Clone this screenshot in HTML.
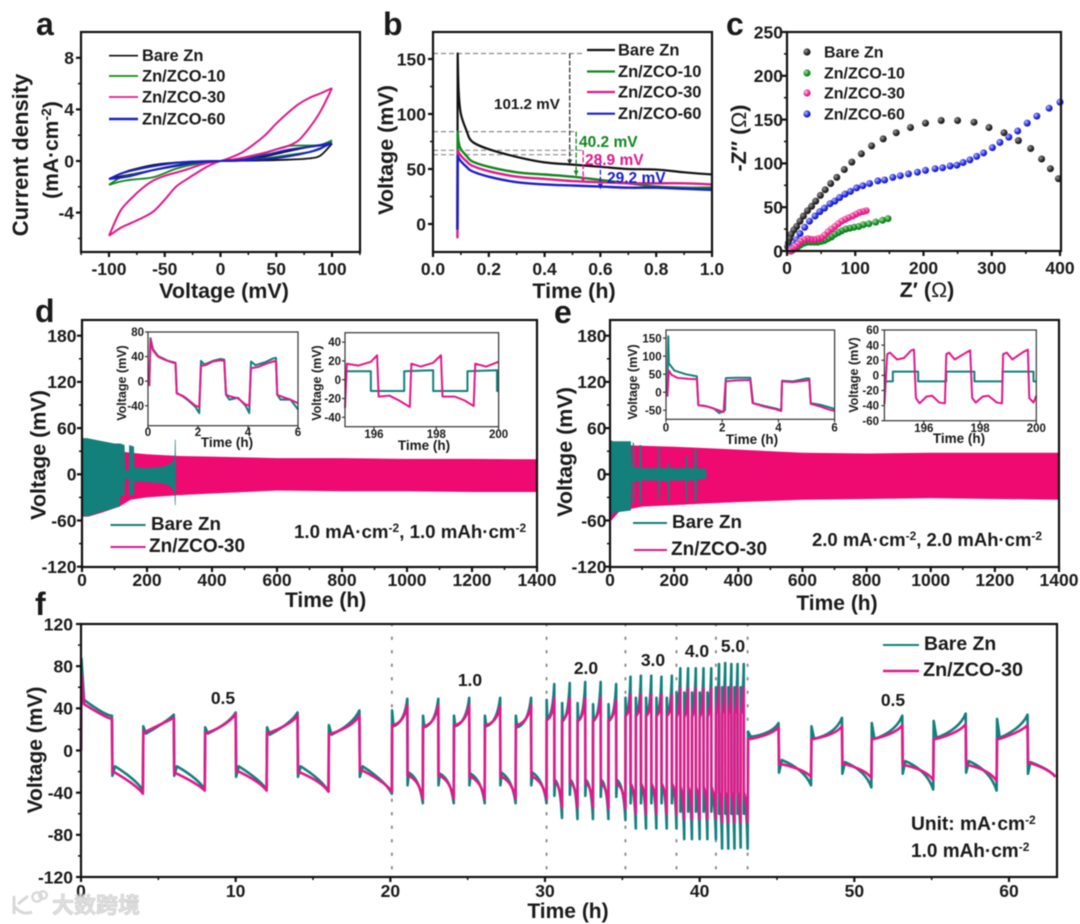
<!DOCTYPE html>
<html lang="en">
<head>
<meta charset="utf-8">
<title>Zn/ZCO electrochemical performance figure</title>
<style>
html,body{margin:0;padding:0;background:#fff;width:1080px;height:924px;overflow:hidden}
svg{display:block;filter:blur(.45px)}
text{font-family:"Liberation Sans","Noto Sans CJK SC",sans-serif;font-weight:700;fill:#1a1a1a}
</style>
</head>
<body>
<svg id="fig" xmlns="http://www.w3.org/2000/svg" width="1080" height="924" viewBox="0 0 1080 924">
<defs>
<radialGradient id="g-black" cx=".35" cy=".35" r=".8"><stop offset="0" stop-color="#9a9a9a"/><stop offset=".6" stop-color="#222"/><stop offset="1" stop-color="#111"/></radialGradient>
<radialGradient id="g-green" cx=".35" cy=".35" r=".8"><stop offset="0" stop-color="#9fe09f"/><stop offset=".6" stop-color="#12861f"/><stop offset="1" stop-color="#0d6f18"/></radialGradient>
<radialGradient id="g-pink" cx=".35" cy=".35" r=".8"><stop offset="0" stop-color="#ffc0e0"/><stop offset=".6" stop-color="#ea1f88"/><stop offset="1" stop-color="#d01077"/></radialGradient>
<radialGradient id="g-blue" cx=".35" cy=".35" r=".8"><stop offset="0" stop-color="#b0b8ff"/><stop offset=".6" stop-color="#1a20d8"/><stop offset="1" stop-color="#1015b0"/></radialGradient>
</defs>
<g id="root"></g>
<g opacity=".9">
<circle cx="37" cy="897" r="4.6" fill="none" stroke="#d4d4d4" stroke-width="2.4"/>
<circle cx="43" cy="895" r="3.8" fill="none" stroke="#d4d4d4" stroke-width="2.4"/>
<path d="M14 896 V914 M14 906 Q22 916 32 912 M18 904 L28 896" fill="none" stroke="#d4d4d4" stroke-width="3"/>
<text x="52" y="913" font-size="22" style="fill:#dcdcdc;stroke:#c6c6c6;stroke-width:.6">大数跨境</text>
</g>
</svg>
<script>
/* ---------- shared colours ---------- */
const cBlack='#111111',cGreen='#12861f',cPink='#e0198a',cBlue='#1a20c8',cTeal='#13807c',cMagenta='#ee0a70';

/* ---------- panel a : CV ---------- */
const aXTicks=[-100,-50,0,50,100];
const aXMinor=[-125,-75,-25,25,75,125];
const aYTicks=[-4,0,4,8];
const aYMinor=[-6,-2,2,6];
const aLegend=['Bare Zn','Zn/ZCO-10','Zn/ZCO-30','Zn/ZCO-60'];
const cvVoltage=[-100,-90,-80,-60,-40,-20,0,20,40,60,80,90,100];
const cvVoltageFine=[-100,-90,-80,-70,-60,-50,-40,-30,-20,-10,0,10,20,30,40,50,60,70,80,90,100];
const cvBareUp=[-1.4,-1.0,-.7,-.3,-.12,-.03,0,.05,.35,.75,1.1,1.2,1.35];
const cvBareLo=[-1.4,-1.2,-1.05,-.7,-.4,-.1,0,.02,.05,.1,.2,.45,1.35];
const cvZ10Up=[-1.85,-1.3,-1.1,-.7,-.35,-.1,0,.1,.6,1.15,1.2,1.25,1.6];
const cvZ10Lo=[-1.85,-1.6,-1.45,-1.25,-.6,-.2,0,.05,.2,.45,.7,.95,1.6];
const cvZ30Up=[-5.8,-3.9,-2.9,-2.1,-1.5,-1.15,-.9,-.65,-.35,-.12,0,.3,.7,1.3,2,2.9,3.7,4.4,4.9,5.25,5.65];
const cvZ30Lo=[-5.8,-5.2,-4.8,-4.4,-3.9,-3,-2,-1.4,-.85,-.35,0,.1,.25,.45,.65,.9,1.15,1.6,2.6,3.9,5.65];
const cvZ60Up=[-1.4,-1.0,-.75,-.4,-.15,-.03,0,.1,.45,.85,1.1,1.25,1.4];
const cvZ60Lo=[-1.4,-1.3,-1.15,-.7,-.35,-.1,0,.05,.15,.35,.7,1.0,1.4];

/* ---------- panel b : nucleation ---------- */
const bXTicks=[0,.2,.4,.6,.8,1];
const bXLabels=['0.0','0.2','0.4','0.6','0.8','1.0'];
const bXMinor=[.1,.3,.5,.7,.9];
const bYTicks=[0,50,100,150];
const bYMinor=[25,75,125];
const bTime=[.0875,.0885,.092,.1,.12,.14,.2,.3,.4,.5,.6,.7,.8,.9,1];
const bBare=[-5,155,120,100,85,75,68,61,56,54,52,50,49.5,47,45];
const bZ10=[-5,84,74,68,62,57,52,47,45,43,40,37,34,33,33];
const bZ30=[-13,67,65,62,57,53,48,43,41,39,38,37,37,37,36];
const bZ60=[-5,62,60,57,52,48,43,38,36,35,34,33,33,32,31];
const bLevels=[155,84,67,63];
const bLevelEnd=[.54,.51,.54,.5];
const bDropX=[.49,.513,.538,.6];
const bDropTop=[155,84,67,62];
const bDropBottom=[54,44,38,32];
const bDropLabels=['101.2 mV','40.2 mV','28.9 mV','29.2 mV'];

/* ---------- panel c : EIS ---------- */
const cXTicks=[0,100,200,300,400];
const cXMinor=[50,150,250,350];
const cYTicks=[0,50,100,150,200,250];
const cYMinor=[25,75,125,175,225];
const cBareRe=[397.6,386,373,357,339,318,296,274,250,226,203,181,160,141,124,109,95,84,73,64,56,49,42,36,30,24,19,14,10,6,4,2,1];
const cBareIm=[82.5,94,105,117,126,135,141,147,149,149,146,141,135,128,120,111,101.5,93,84,77,70,63.5,57,51,46,40,34,28,24,19,14,9,5];
const cZ60Re=[400,384,366,352,338,325,312,301,288,278,268,258,249,239,228,217,203,191,178,166,155,143,133,121,111,102,93,85,77,70,63,55,48,41,33,26,19,14,10,6];
const cZ60Im=[170,163,154,146,137,130,124,118,112,108,104,101,98,97,95,94,92,90,88,86,84,81,80,77,74.5,72,68,65,61,57,54,49,45,40,34,27,20,13,6.5,3];
const cZ10Re=[148,140,130,120,112,105,98,92,86,80,75,70,65,60,55,50,45,40,35,30,25,20,16,12,8,6];
const cZ10Im=[37,35,33,31,30,28,27,26,25,23,21,19,16,14,12,11,10,10,10,10,9,7,5,3,1,0];
const cZ30Re=[116,111,106,101,96,90,85,80,75,70,65,60,55,50,45,40,35,30,25,20,16,12,8,5];
const cZ30Im=[46,45,44,42,40,38,36,34,31,28,25,22,18,15,14,13,13.5,14,13,11,8,5,2,0];

/* ---------- panel d : 1 mA cycling ---------- */
const dXTicks=[0,200,400,600,800,1000,1200,1400];
const dXMinor=[100,300,500,700,900,1100,1300];
const dYTicks=[-120,-60,0,60,120,180];
const dYMinor=[-90,-30,30,90,150];
const dZcoT=[0,20,60,115,150,200,300,400,600,800,1000,1200,1400];
const dZcoUp=[40,40,36,30,28,26,23.7,23,21,21,20,20,19.5];
const dZcoLo=[-55,-55,-50,-42,-33,-30,-27,-25,-21,-22,-22,-23,-23];
const dBareT=[0,3,15,50,100,116,118,131,133,144,145,160,161,200,250,270,280,285,286,288,289];
const dBareUp=[70,47,47,44,40,40,40,38,5,6,38,36,9,8,10,13,17,22,45,45,0];
const dBareLo=[-50,-52,-55,-50,-44,-42,-28,-28,-6,-6,-27,-27,-9,-10,-12,-15,-20,-24,-40,-40,0];

/* inset d1 */
const d1XTicks=[0,2,4,6];
const d1YTicks=[-40,0,40,80];
const d1ZcoT=[.05,.1,.2,.4,.6,.8,1,1.1,1.15,1.4,1.6,1.9,2.05,2.12,2.3,2.6,2.9,3.05,3.12,3.3,3.6,3.9,4.05,4.12,4.4,4.7,5,5.12,5.17,5.4,5.7,6];
const d1ZcoV=[-8,68,50,40,36,33,30,30,-20,-24,-30,-40,-42,25,26,32,34,33,-22,-25,-28,-38,-40,21,23,28,32,33,-22,-26,-30,-36];
const d1BareT=[.05,.1,.2,.4,.6,.8,1,1.1,1.15,1.4,1.6,1.9,2.05,2.12,2.25,2.6,2.9,3.05,3.12,3.25,3.6,3.9,4.05,4.12,4.3,4.7,5,5.12,5.17,5.3,5.7,6];
const d1BareV=[-8,70,52,41,37,33,31,30,-19,-25,-31,-42,-52,33,27,33,36,35,-22,-30,-27,-40,-52,32,26,31,37,38,-22,-30,-30,-46];

/* inset d2 */
const d2XTicks=[196,198,200];
const d2YTicks=[-40,-20,0,20,40];
const d2BareT=[195.07,195.9,195.9,196.97,196.97,197.9,197.9,199,199,199.95,199.95,200];
const d2BareV=[9,9,-12,-12,9,10,-12,-12,9,10,-12,-12];
const d2ZcoT=[195.07,195.13,195.5,195.9,196.1,196.15,196.5,196.8,197.15,197.2,197.5,197.9,198.15,198.2,198.6,198.9,199.2,199.25,199.6,200];
const d2ZcoV=[-30,17,15,19,26,-18,-17,-22,-29,17,14,18,26,-18,-18,-22,-28,17,14,19];

/* ---------- panel e : 2 mA cycling ---------- */
const eZcoT=[0,30,100,200,300,400,600,800,1000,1200,1400];
const eZcoUp=[38,38,37,35.7,34,32,28,27,28,28,28];
const eZcoLo=[-62,-48,-42,-40,-38,-36,-33,-32,-31,-32,-33];
const eBareT=[0,1,3,10,65,67,70,71,75,76,91,92,97,98,150,151,155,156,180,181,185,186,235,236,240,241,263,264,270,271,295,300,301];
const eBareUp=[155,155,44,43,43,10,10,42,40,10,8,38,38,8,8,36,36,8,8,15,15,8,8,25,25,8,8,32,32,8,7,6,0];
const eBareLo=[-55,-55,-55,-50,-47,-10,-10,-38,-38,-10,-8,-38,-38,-8,-8,-32,-32,-8,-10,-35,-35,-8,-8,-36,-36,-8,-8,-36,-36,-7,-6,-6,0];

/* inset e1 */
const e1XTicks=[0,2,4,6];
const e1YTicks=[-50,0,50,100,150];
const e1BareT=[.05,.08,.1,.3,.7,1.1,1.15,1.4,1.7,1.9,2.1,2.13,2.5,3,3.1,3.5,3.9,4.1,4.13,4.5,5,5.1,5.15,5.5,6];
const e1BareV=[-12,155,80,60,50,44,-35,-38,-45,-58,-50,39,40,40,-30,-38,-45,-50,32,30,38,38,-30,-35,-46];
const e1ZcoT=[.05,.1,.2,.4,.8,1.1,1.15,1.5,1.8,2.05,2.12,2.5,3,3.08,3.5,3.9,4.1,4.13,4.5,5,5.1,5.15,5.5,5.8,6];
const e1ZcoV=[-12,60,48,40,37,36,-36,-40,-48,-55,30,33,34,-30,-40,-47,-52,30,28,32,34,-32,-40,-48,-52];

/* inset e2 */
const e2XTicks=[196,198,200];
const e2YTicks=[-60,-40,-20,0,20,40,60];
const e2BareT=[194.6,194.9,194.9,195.8,195.8,196.8,196.8,197.8,197.8,198.8,198.8,199.9,199.9,200];
const e2BareV=[-8,-8,5,5,-8,-8,5,5,-8,-8,5,5,-8,-8];
const e2ZcoT=[194.6,194.7,194.8,195.05,195.3,195.55,195.65,195.72,195.85,196.1,196.3,196.55,196.75,196.8,196.9,197.1,197.5,197.65,197.72,197.85,198.1,198.3,198.6,198.78,198.82,198.95,199.15,199.5,199.7,199.75,199.9,200];
const e2ZcoV=[-38,28,30,21,23,33,34,-30,-37,-28,-27,-36,-37,28,30,21,30,33,-30,-36,-28,-27,-36,-37,28,30,21,30,34,-30,-36,-27];

/* ---------- panel f : rate ---------- */
const fXTicks=[0,10,20,30,40,50,60];
const fXMinor=[5,15,25,35,45,55];
const fYTicks=[-120,-80,-40,0,40,80,120];
const fYMinor=[-100,-60,-20,20,60,100];
const fRateChanges=[20.1,30.1,35.2,38.5,41.05,43.1];
const fRateLabels=['0.5','1.0','2.0','3.0','4.0','5.0','0.5'];
const fHalfEnd=[2,4,6,8,10,12,14,16,18,20.1,
 21.1,22.1,23.1,24.1,25.1,26.1,27.1,28.1,29.1,30.1,
 30.6,31.1,31.6,32.1,32.6,33.1,33.6,34.1,34.6,35.2,
 35.53,35.87,36.2,36.53,36.87,37.2,37.53,37.87,38.2,38.5,
 38.75,39,39.25,39.5,39.75,40,40.25,40.5,40.75,41.05,
 41.25,41.45,41.65,41.85,42.05,42.25,42.45,42.65,42.85,43.1,
 45.1,47.2,49.2,51.1,53.1,55.1,57.2,59.2,61.2,63];
const fBareSpike=[87,-24,23,-24,22,-25,22,-25,24,-25,
 38,-33,33,-33,33,-33,33,-33,33,-33,
 48,-43,45,-42,45,-43,44,-44,44,-44,
 50,-50,50,-50,50,-50,50,-50,50,-50,
 55,-58,55,-58,55,-58,55,-58,55,-58,
 60,-60,60,-60,60,-60,60,-60,60,-60,
 18,-21,23,-22,26,-22,28,-21,30,-22];
const fBarePlateau=[48,-15,16,-15,16,-15,15,-15,15,-15,
 23,-21,22,-22,23,-22,23,-21,22,-21,
 30,-28,28,-28,28,-28,28,-28,28,-28,
 34,-32,34,-32,34,-32,34,-32,34,-32,
 38,-38,38,-38,38,-38,38,-38,38,-38,
 40,-42,40,-42,40,-42,40,-42,40,-42,
 13,-9,11,-11,11,-10,12,-10,12,-11];
const fBareKnee=[33,-28,28,-27,26,-28,26,-28,25,-29,
 26,-27,25,-27,26,-28,26,-28,25,-28,
 33,-32,32,-32,32,-32,32,-32,32,-32,
 38,-38,38,-38,38,-38,38,-38,38,-38,
 45,-48,45,-48,45,-48,45,-48,45,-48,
 50,-55,50,-55,50,-55,50,-55,50,-55,
 16,-18,16,-19,18,-19,20,-19,21,-18];
const fBareEnd=[33,-38,34,-37,36,-37,36,-39,38,-41,
 49,-50,49,-50,50,-50,50,-50,50,-50,
 63,-64,64,-65,65,-65,65,-65,63,-66,
 70,-74,71,-74,71,-74,70,-74,71,-74,
 78,-84,78,-84,78,-84,78,-84,78,-84,
 82,-93,83,-93,82,-93,82,-92,82,-93,
 26,-33,31,-35,33,-37,35,-38,34,-25];
const fZcoSpike=[72,-21,18,-22,17,-20,17,-21,16,-19,
 24,-24,23,-24,24,-25,24,-25,24,-25,
 29,-30,29,-30,28,-31,29,-31,29,-32,
 33,-32,33,-32,33,-32,33,-32,33,-32,
 32,-35,32,-35,32,-35,32,-35,32,-35,
 35,-40,35,-40,35,-40,35,-40,35,-40,
 11,-13,11,-13,11,-14,11,-14,11,-12];
const fZcoPlateau=[44,-21,18,-22,17,-20,17,-21,16,-19,
 24,-24,23,-24,24,-25,24,-25,24,-25,
 29,-30,29,-30,28,-31,29,-31,29,-32,
 33,-32,33,-32,33,-32,33,-32,33,-32,
 32,-35,32,-35,32,-35,32,-35,32,-35,
 35,-40,35,-40,35,-40,35,-40,35,-40,
 11,-13,11,-13,11,-14,11,-14,11,-12];
const fZcoKnee=[31,-33,28,-32,25,-30,25,-30,23,-30,
 27,-29,26,-29,27,-30,27,-30,27,-30,
 32,-34,32,-34,32,-34,32,-35,32,-35,
 36,-38,36,-38,36,-38,36,-38,36,-38,
 40,-44,40,-44,40,-44,40,-44,40,-44,
 45,-50,45,-50,45,-50,45,-50,45,-50,
 15,-18,15,-18,16,-19,17,-19,18,-18];
const fZcoEnd=[30,-41,31,-38,35,-38,33,-39,33,-39,
 43,-46,43,-46,43,-46,42,-46,43,-46,
 50,-54,50,-54,50,-54,50,-55,48,-55,
 53,-60,53,-60,53,-60,53,-60,53,-60,
 59,-65,59,-65,59,-65,59,-65,59,-65,
 60,-68,60,-68,60,-68,60,-68,60,-68,
 22,-25,23,-26,24,-28,25,-29,24,-25];

/* ---------- helpers ---------- */
const NS='http://www.w3.org/2000/svg';
const root=document.getElementById('root');
function scale(d0,d1,r0,r1){return v=>r0+(v-d0)*(r1-r0)/(d1-d0);}
function node(tag,parent,name){
  const el=document.createElementNS(NS,tag);
  
  
  parent.appendChild(el);
  return el;
}
function group(parent,name){return node('g',parent,name);}
function label(parent,name,x,y,str,size,anchor,fill,rot){
  const t=node('text',parent,name);
  t.setAttribute('x',x);t.setAttribute('y',y);
  t.setAttribute('font-size',size);
  t.setAttribute('text-anchor',anchor||'start');
  if(fill)t.style.fill=fill;
  if(rot)t.setAttribute('transform','rotate(-90 '+x+' '+y+')');
  t.innerHTML=str;
  return t;
}
function seg(parent,name,x1,y1,x2,y2,color,w,dash){
  const l=node('line',parent,name);
  l.setAttribute('x1',x1);l.setAttribute('y1',y1);l.setAttribute('x2',x2);l.setAttribute('y2',y2);
  l.setAttribute('stroke',color);l.setAttribute('stroke-width',w);
  if(dash)l.setAttribute('stroke-dasharray',dash);
  return l;
}
function series(parent,name,xs,ys,sx,sy,color,w,smoothFrom){
  const p=node('path',parent,name);
  const pts=xs.map((v,i)=>[sx(v),sy(ys[i])]);
  let d='M'+pts[0][0].toFixed(2)+' '+pts[0][1].toFixed(2);
  for(let i=0;i<pts.length-1;i++){
    const b=pts[i],c=pts[i+1];
    if(smoothFrom===undefined||i<smoothFrom){
      d+='L'+c[0].toFixed(2)+' '+c[1].toFixed(2);
    }else{
      const a=pts[Math.max(i-1,smoothFrom)],e=pts[Math.min(i+2,pts.length-1)];
      d+='C'+(b[0]+(c[0]-a[0])/6).toFixed(2)+' '+(b[1]+(c[1]-a[1])/6).toFixed(2)+' '+
          (c[0]-(e[0]-b[0])/6).toFixed(2)+' '+(c[1]-(e[1]-b[1])/6).toFixed(2)+' '+
          c[0].toFixed(2)+' '+c[1].toFixed(2);
    }
  }
  p.setAttribute('d',d);
  p.setAttribute('fill','none');p.setAttribute('stroke',color);p.setAttribute('stroke-width',w);
  p.setAttribute('stroke-linejoin','round');
  return p;
}
function band(parent,name,ts,up,lo,sx,sy,color){
  const p=node('path',parent,name);
  let d=ts.map((t,i)=>(i?'L':'M')+sx(t).toFixed(2)+' '+sy(up[i]).toFixed(2)).join('');
  for(let i=ts.length-1;i>=0;i--)d+='L'+sx(ts[i]).toFixed(2)+' '+sy(lo[i]).toFixed(2);
  p.setAttribute('d',d+'Z');p.setAttribute('fill',color);
  return p;
}
function frame(g,o){
  const x0=o.box[0],y0=o.box[1],x1=o.box[2],y1=o.box[3];
  const w=o.sw||2.2,len=o.len||5,col=o.color||'#111';
  (o.xMinor||[]).forEach(v=>seg(g,'x-minor-tick',o.sx(v),y1,o.sx(v),y1+len*.6,col,w*.7));
  (o.yMinor||[]).forEach(v=>seg(g,'y-minor-tick',x0,o.sy(v),x0-len*.6,o.sy(v),col,w*.7));
  o.xTicks.forEach((v,i)=>{
    seg(g,'x-tick',o.sx(v),y1,o.sx(v),y1+len,col,w);
    label(g,'x-tick-label',o.sx(v),o.xLabelY,o.xLabels?o.xLabels[i]:String(v),o.font,'middle');
  });
  o.yTicks.forEach(v=>{
    seg(g,'y-tick',x0,o.sy(v),x0-len,o.sy(v),col,w);
    label(g,'y-tick-label',o.yLabelX,o.sy(v)+o.font*.36,String(v),o.font,'end');
  });
  const r=node('rect',g,'plot-frame');
  r.setAttribute('x',x0);r.setAttribute('y',y0);r.setAttribute('width',x1-x0);r.setAttribute('height',y1-y0);
  r.setAttribute('fill','none');r.setAttribute('stroke',col);r.setAttribute('stroke-width',w);
}
function lineKey(g,name,text,x0,x1,y,tx,ty,size,color,w){
  const e=group(g,name);
  seg(e,'legend-line',x0,y,x1,y,color,w);
  label(e,'legend-label',tx,ty,text,size);
}

/* ---------- panel a ---------- */
(function(){
  const g=group(root,'panel-a-cv-chart');
  const sx=scale(-100,100,109,332),sy=scale(0,8,161,57.8);
  label(g,'panel-letter-a',36,35,'a',32);
  series(g,'series-bare-zn-forward',cvVoltage,cvBareUp,sx,sy,cBlack,1.8,0);
  series(g,'series-bare-zn-reverse',cvVoltage,cvBareLo,sx,sy,cBlack,1.8,0);
  series(g,'series-zn-zco-10-forward',cvVoltage,cvZ10Up,sx,sy,cGreen,1.8,0);
  series(g,'series-zn-zco-10-reverse',cvVoltage,cvZ10Lo,sx,sy,cGreen,1.8,0);
  series(g,'series-zn-zco-30-forward',cvVoltageFine,cvZ30Up,sx,sy,cPink,2,0);
  series(g,'series-zn-zco-30-reverse',cvVoltageFine,cvZ30Lo,sx,sy,cPink,2,0);
  series(g,'series-zn-zco-60-forward',cvVoltage,cvZ60Up,sx,sy,cBlue,2,0);
  series(g,'series-zn-zco-60-reverse',cvVoltage,cvZ60Lo,sx,sy,cBlue,2,0);
  frame(g,{box:[81,32,360,252],sx,sy,xTicks:aXTicks,xMinor:aXMinor,yTicks:aYTicks,yMinor:aYMinor,font:17.5,xLabelY:275,yLabelX:74});
  [[55.7,cBlack,1.6],[76,cGreen,1.8],[97,cPink,1.8],[119,cBlue,2.4]].forEach((k,i)=>{
    lineKey(g,'legend-entry',aLegend[i],109,138,k[0],142,k[0]+5.5,16.5,k[1],k[2]);
  });
  label(g,'x-axis-title',224,298,'Voltage (mV)',21.5,'middle');
  label(g,'y-axis-title',28,155,'Current density',22,'middle','',true);
  label(g,'y-axis-title-units',58,150,'(mA·cm<tspan dy="-7" font-size="14">-2</tspan><tspan dy="7">)</tspan>',21,'middle','',true);
})();

/* ---------- panel b ---------- */
(function(){
  const g=group(root,'panel-b-nucleation-chart');
  const sx=scale(0,1,433,712),sy=scale(0,150,224,59);
  label(g,'panel-letter-b',383,35,'b',32);
  bLevels.forEach((v,i)=>seg(g,'overpotential-guide',433,sy(v),sx(bLevelEnd[i]),sy(v),'#8a8a8a',1.2,'5 3'));
  series(g,'series-bare-zn',bTime,bBare,sx,sy,cBlack,2.2,1);
  series(g,'series-zn-zco-10',bTime,bZ10,sx,sy,cGreen,2.4,1);
  series(g,'series-zn-zco-30',bTime,bZ30,sx,sy,cPink,2.4,1);
  series(g,'series-zn-zco-60',bTime,bZ60,sx,sy,cBlue,2.4,1);
  const dropColors=['#333',cGreen,cPink,cBlue];
  bDropX.forEach((v,i)=>{
    seg(g,'overpotential-drop',sx(v),sy(bDropTop[i]),sx(v),sy(bDropBottom[i]),dropColors[i],1.3,'5 2');
    const a=node('path',g,'overpotential-arrow');
    a.setAttribute('d','M'+(sx(v)-2.5)+' '+(sy(bDropBottom[i])-5)+'h5l-2.5 5z');
    a.setAttribute('fill',dropColors[i]);
  });
  frame(g,{box:[433,32,712,252],sx,sy,xTicks:bXTicks,xLabels:bXLabels,xMinor:bXMinor,yTicks:bYTicks,yMinor:bYMinor,font:17.5,xLabelY:275,yLabelX:426});
  [[50,cBlack],[71.5,cGreen],[92,cPink],[113.7,cBlue]].forEach((k,i)=>{
    lineKey(g,'legend-entry',aLegend[i],587,615,k[0],618,k[0]+5.5,16.5,k[1],2.2);
  });
  label(g,'drop-label-bare-zn',494,109,bDropLabels[0],15.2);
  label(g,'drop-label-zco-10',579,147,bDropLabels[1],15.5,'start',cGreen);
  label(g,'drop-label-zco-30',585,165,bDropLabels[2],15.5,'start',cPink);
  label(g,'drop-label-zco-60',607,183,bDropLabels[3],15.5,'start',cBlue);
  label(g,'x-axis-title',574,298,'Time (h)',21.5,'middle');
  label(g,'y-axis-title',393,150,'Voltage (mV)',21.5,'middle','',true);
})();

/* ---------- panel c ---------- */
(function(){
  const g=group(root,'panel-c-eis-chart');
  const sx=scale(0,400,787,1060),sy=scale(0,250,251,32);
  label(g,'panel-letter-c',726,35,'c',32);
  function dots(name,re,im,fill,r){
    const s=group(g,name);
    re.forEach((v,i)=>{
      const c=node('circle',s,'data-point');
      c.setAttribute('cx',sx(v).toFixed(1));c.setAttribute('cy',sy(im[i]).toFixed(1));
      c.setAttribute('r',r);c.setAttribute('fill',fill);
    });
  }
  dots('series-bare-zn',cBareRe,cBareIm,'url(#g-black)',3.5);
  dots('series-zn-zco-10',cZ10Re,cZ10Im,'url(#g-green)',3.5);
  dots('series-zn-zco-60',cZ60Re,cZ60Im,'url(#g-blue)',3.5);
  dots('series-zn-zco-30',cZ30Re,cZ30Im,'url(#g-pink)',3.5);
  frame(g,{box:[787,32,1061,251],sx,sy,xTicks:cXTicks,xMinor:cXMinor,yTicks:cYTicks,yMinor:cYMinor,font:17.5,xLabelY:274,yLabelX:783});
  [[52,'url(#g-black)'],[73,'url(#g-green)'],[93,'url(#g-pink)'],[114,'url(#g-blue)']].forEach((k,i)=>{
    const e=group(g,'legend-entry');
    const c=node('circle',e,'legend-marker');
    c.setAttribute('cx',807);c.setAttribute('cy',k[0]);c.setAttribute('r',3.6);c.setAttribute('fill',k[1]);
    label(e,'legend-label',824,k[0]+5.5,aLegend[i],16);
  });
  label(g,'x-axis-title',927,297,'Z′ (<tspan font-weight="400">Ω</tspan>)',21.5,'middle');
  label(g,'y-axis-title',746,138,'-Z″ (<tspan font-weight="400">Ω</tspan>)',21.5,'middle','',true);
})();

/* ---------- inset helper ---------- */
function inset(parent,name,o){
  const g=group(parent,name);
  const sx=scale(o.xd[0],o.xd[1],o.box[0],o.box[2]),sy=scale(o.yd[0],o.yd[1],o.box[3],o.box[1]);
  series(g,'series-bare-zn',o.bareT,o.bareV,sx,sy,cTeal,2);
  series(g,'series-zn-zco-30',o.zcoT,o.zcoV,sx,sy,cPink,2);
  frame(g,{box:o.box,sx,sy,xTicks:o.xTicks,yTicks:o.yTicks,font:11.5,xLabelY:o.xLabelY,yLabelX:o.yLabelX,sw:1.2,len:3,color:'#333'});
  label(g,'inset-x-axis-title',o.xTitle[0],o.xTitle[1],'Time (h)',13.5,'middle');
  label(g,'inset-y-axis-title',o.yTitle[0],o.yTitle[1],'Voltage (mV)',12.5,'middle','',true);
}

/* ---------- panel d ---------- */
(function(){
  const g=group(root,'panel-d-cycling-chart');
  const sx=scale(0,1400,82,537),sy=scale(0,180,474.3,335.7);
  label(g,'panel-letter-d',35,322,'d',32);
  band(g,'series-zn-zco-30-envelope',dZcoT,dZcoUp,dZcoLo,sx,sy,cMagenta);
  band(g,'series-bare-zn-envelope',dBareT,dBareUp,dBareLo,sx,sy,cTeal);
  frame(g,{box:[82,320,537,567],sx,sy,xTicks:dXTicks,xMinor:dXMinor,yTicks:dYTicks,yMinor:dYMinor,font:17.5,xLabelY:586,yLabelX:76.5});
  lineKey(g,'legend-entry-bare-zn','Bare Zn',110.5,145.6,525,151,530,18.8,cTeal,2);
  lineKey(g,'legend-entry-zn-zco-30','Zn/ZCO-30',110.5,145.6,547,149,552,19,cPink,2);
  label(g,'current-condition-label',294,538,'1.0 mA·cm<tspan dy="-6" font-size="12">-2</tspan><tspan dy="6">, 1.0 mAh·cm</tspan><tspan dy="-6" font-size="12">-2</tspan>',18.7);
  label(g,'x-axis-title',325.6,607,'Time (h)',21,'middle');
  label(g,'y-axis-title',45.6,455,'Voltage (mV)',21.5,'middle','',true);
  inset(g,'inset-early-cycles',{box:[148,332,298,425.7],xd:[0,6],yd:[-72.5,80],bareT:d1BareT,bareV:d1BareV,zcoT:d1ZcoT,zcoV:d1ZcoV,xTicks:d1XTicks,yTicks:d1YTicks,xLabelY:436,yLabelX:144,xTitle:[227,447],yTitle:[126,383]});
  inset(g,'inset-late-cycles',{box:[345,332.7,498.6,426.7],xd:[195.07,200],yd:[-50,50],bareT:d2BareT,bareV:d2BareV,zcoT:d2ZcoT,zcoV:d2ZcoV,xTicks:d2XTicks,yTicks:d2YTicks,xLabelY:438,yLabelX:341,xTitle:[424,450],yTitle:[321,383]});
})();

/* ---------- panel e ---------- */
(function(){
  const g=group(root,'panel-e-cycling-chart');
  const sx=scale(0,1400,610,1059),sy=scale(0,180,474.3,335.7);
  label(g,'panel-letter-e',554,323,'e',32);
  band(g,'series-zn-zco-30-envelope',eZcoT,eZcoUp,eZcoLo,sx,sy,cMagenta);
  band(g,'series-bare-zn-envelope',eBareT,eBareUp,eBareLo,sx,sy,cTeal);
  frame(g,{box:[610,320,1059,567],sx,sy,xTicks:dXTicks,xMinor:dXMinor,yTicks:dYTicks,yMinor:dYMinor,font:17.5,xLabelY:586,yLabelX:606.5});
  lineKey(g,'legend-entry-bare-zn','Bare Zn',633,667,523,672,528,18.8,cTeal,2);
  lineKey(g,'legend-entry-zn-zco-30','Zn/ZCO-30',634,667,550,671,555,19,cPink,2);
  label(g,'current-condition-label',812,546,'2.0 mA·cm<tspan dy="-6" font-size="12">-2</tspan><tspan dy="6">, 2.0 mAh·cm</tspan><tspan dy="-6" font-size="12">-2</tspan>',18.5);
  label(g,'x-axis-title',837,610,'Time (h)',21,'middle');
  label(g,'y-axis-title',572,452,'Voltage (mV)',21.5,'middle','',true);
  inset(g,'inset-early-cycles',{box:[666,330,834.6,419.3],xd:[0,6],yd:[-75,172.5],bareT:e1BareT,bareV:e1BareV,zcoT:e1ZcoT,zcoV:e1ZcoV,xTicks:e1XTicks,yTicks:e1YTicks,xLabelY:431.6,yLabelX:661.6,xTitle:[752,444],yTitle:[637,382]});
  inset(g,'inset-late-cycles',{box:[884.4,330,1036.3,420.7],xd:[194.6,200],yd:[-60,60],bareT:e2BareT,bareV:e2BareV,zcoT:e2ZcoT,zcoV:e2ZcoV,xTicks:e2XTicks,yTicks:e2YTicks,xLabelY:432,yLabelX:879,xTitle:[959,443],yTitle:[858,375]});
})();

/* ---------- panel f ---------- */
(function(){
  const g=group(root,'panel-f-rate-chart');
  const sx=scale(0,60,81,1009),sy=scale(-120,120,877,624);
  label(g,'panel-letter-f',35,615,'f',32);
  fRateChanges.forEach(v=>{
    const l=seg(g,'rate-change-divider',sx(v),624,sx(v),877,'#8c8c8c',2,'1.5 12');
    l.setAttribute('stroke-linecap','round');
  });
  function rateSeries(name,spike,plateau,knee,end,color,w){
    const p=node('path',g,name);
    let d='M'+sx(0).toFixed(2)+' '+sy(0).toFixed(2);
    fHalfEnd.forEach((t1,i)=>{
      const t0=i?fHalfEnd[i-1]:0,dt=t1-t0;
      d+='L'+sx(t0+dt*.015).toFixed(2)+' '+sy(spike[i]).toFixed(2);
      d+='L'+sx(t0+dt*.1).toFixed(2)+' '+sy(plateau[i]).toFixed(2);
      d+='Q'+sx(t0+dt*.8).toFixed(2)+' '+sy(knee[i]).toFixed(2)+' '+sx(t1).toFixed(2)+' '+sy(end[i]).toFixed(2);
    });
    p.setAttribute('d',d);
    p.setAttribute('fill','none');p.setAttribute('stroke',color);p.setAttribute('stroke-width',w);
    p.setAttribute('stroke-linejoin','round');
  }
  rateSeries('series-bare-zn',fBareSpike,fBarePlateau,fBareKnee,fBareEnd,cTeal,2.6);
  rateSeries('series-zn-zco-30',fZcoSpike,fZcoPlateau,fZcoKnee,fZcoEnd,cPink,2.6);
  frame(g,{box:[81,624,1057,877],sx,sy,xTicks:fXTicks,xMinor:fXMinor,yTicks:fYTicks,yMinor:fYMinor,font:17.5,xLabelY:897,yLabelX:73});
  [[223,704],[470,686],[586,674],[653,666],[697,657],[733,652],[893,706]].forEach((p,i)=>{
    label(g,'rate-label',p[0],p[1],fRateLabels[i],17.5,'middle');
  });
  lineKey(g,'legend-entry-bare-zn','Bare Zn',883,919,645,924,650,19.4,cTeal,2);
  lineKey(g,'legend-entry-zn-zco-30','Zn/ZCO-30',883,919,671,923,676,19.8,cPink,2.4);
  label(g,'unit-label',911,830,'Unit: mA·cm<tspan dy="-6" font-size="12">-2</tspan>',19.2);
  label(g,'capacity-label',911,857,'1.0 mAh·cm<tspan dy="-6" font-size="12">-2</tspan>',19);
  label(g,'x-axis-title',568,918,'Time (h)',21,'middle');
  label(g,'y-axis-title',42,750,'Voltage (mV)',21,'middle','',true);
})();
</script>
</body>
</html>
